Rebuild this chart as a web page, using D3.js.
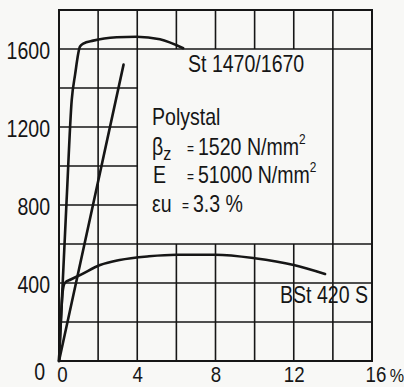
<!DOCTYPE html>
<html>
<head>
<meta charset="utf-8">
<script src="https://cdn.jsdelivr.net/npm/d3@7"></script>
<style>
  body { margin: 0; background: #f8f8f6; }
  svg text { font-family: "Liberation Sans", Arial, sans-serif; fill: #161616; }
</style>
</head>
<body>
<div id="chart"></div>
<script>
// strain in %, stress in N/mm2
const strainTicks = [0, 4, 8, 12, 16];
const stressTicks = [0, 400, 800, 1200, 1600];

const stStrain = [0, 0.39, 0.65, 0.82, 1.07, 1.24, 1.75, 2.95, 3.97, 5.16, 6.35];
const stStress = [0, 826, 1338, 1467, 1612, 1628, 1643, 1660, 1663, 1650, 1604];

const polyStrain = [0, 3.3];
const polyStress = [0, 1520];

const bstStrain = [0, 0.2, 0.3, 0.6, 1.1, 2.1, 3.1, 4.6, 6.0, 8.0, 10.0, 12.0, 13.6];
const bstStress = [0, 365, 400, 418, 442, 492, 518, 537, 545, 545, 527, 492, 446];

const W = 404, H = 387;
const ink = '#161616';
const narrow = 0.85; // no narrow font installed, squeeze Liberation Sans instead

const svg = d3.select('#chart').append('svg')
  .attr('width', W).attr('height', H);

svg.append('rect').attr('width', W).attr('height', H).attr('fill', '#f8f8f6');

const x = d3.scaleLinear().domain([0, 16]).range([59, 372]);
const y = d3.scaleLinear().domain([0, 1800]).range([361, 10]);

// grid - the middle is left open for the text block
const vLines = [
  [2, 0, 1800], [4, 0, 1800], [14, 0, 1800],
  [6, 0, 600], [8, 0, 600], [10, 0, 600], [12, 0, 600],
  [6, 1600, 1800], [8, 1600, 1800], [10, 1600, 1800], [12, 1600, 1800]
];
const hLines = [
  [200, 0, 16], [400, 0, 16], [600, 0, 16], [1600, 0, 16],
  [800, 0, 4], [1000, 0, 4], [1200, 0, 4], [1400, 0, 4]
];

const grid = svg.append('g').attr('stroke', ink).attr('stroke-width', 1.6);
grid.selectAll('.v').data(vLines).join('line')
  .attr('x1', d => x(d[0])).attr('x2', d => x(d[0]))
  .attr('y1', d => y(d[1])).attr('y2', d => y(d[2]));
grid.selectAll('.h').data(hLines).join('line')
  .attr('y1', d => y(d[0])).attr('y2', d => y(d[0]))
  .attr('x1', d => x(d[1])).attr('x2', d => x(d[2]));

svg.append('rect')
  .attr('x', x(0)).attr('y', y(1800))
  .attr('width', x(16) - x(0)).attr('height', y(0) - y(1800))
  .attr('fill', 'none').attr('stroke', ink).attr('stroke-width', 2);

// axes
const yAxis = svg.append('g')
  .attr('transform', `translate(${x(0)},0)`)
  .call(d3.axisLeft(y).tickValues(stressTicks).tickSize(0).tickPadding(9).tickFormat(d3.format('d')));
yAxis.select('.domain').remove();
yAxis.selectAll('text')
  .attr('font-size', 23).attr('fill', ink)
  .attr('x', d => (d === 0 ? -14 : -9) / narrow)
  .attr('dy', d => d === 0 ? '0.8em' : '0.43em')
  .attr('transform', `scale(${narrow},1)`);

const xAxis = svg.append('g')
  .attr('transform', `translate(0,${y(0)})`)
  .call(d3.axisBottom(x).tickValues(strainTicks).tickSize(0).tickPadding(5));
xAxis.select('.domain').remove();
xAxis.selectAll('text')
  .attr('font-size', 22).attr('fill', ink)
  .attr('text-anchor', d => d === 16 ? 'start' : 'middle')
  .attr('x', d => (d === 16 ? -7 : (d === 0 ? 3 : 0)) / narrow)
  .attr('transform', `scale(${narrow},1)`);
xAxis.selectAll('.tick')
  .filter(d => d === 16)
  .select('text')
  .append('tspan').attr('dx', 4).attr('font-size', 19).text('%');

// curves
const line = d3.line()
  .x(d => x(d[0])).y(d => y(d[1]))
  .curve(d3.curveMonotoneX);

const series = [
  d3.zip(stStrain, stStress),
  d3.zip(polyStrain, polyStress),
  d3.zip(bstStrain, bstStress)
];

svg.append('g').selectAll('path').data(series).join('path')
  .attr('d', line)
  .attr('fill', 'none').attr('stroke', ink)
  .attr('stroke-width', 2.6).attr('stroke-linecap', 'round');

// labels
const label = (px, py, txt, size = 23) => {
  const t = svg.append('text')
    .attr('transform', `translate(${px},${py}) scale(${narrow},1)`)
    .attr('font-size', size);
  if (txt) t.text(txt);
  return t;
};

label(188, 72, 'St 1470/1670');
label(280, 303, 'BSt 420 S');
label(152, 125, 'Polystal');

const b = label(152, 155);
b.append('tspan').text('β');
b.append('tspan').attr('font-size', 19).attr('dy', 5).text('z');
label(187, 154, '=', 14);
const v1 = label(198, 155);
v1.append('tspan').text('1520 N/mm');
v1.append('tspan').attr('font-size', 14).attr('dy', -11).text('2');

label(153, 183, 'E');
label(187, 182, '=', 14);
const v2 = label(198, 183);
v2.append('tspan').text('51000 N/mm');
v2.append('tspan').attr('font-size', 14).attr('dy', -11).text('2');

label(152, 212, 'εu');
label(182, 211, '=', 14);
label(193, 212, '3.3 %');
</script>
</body>
</html>
